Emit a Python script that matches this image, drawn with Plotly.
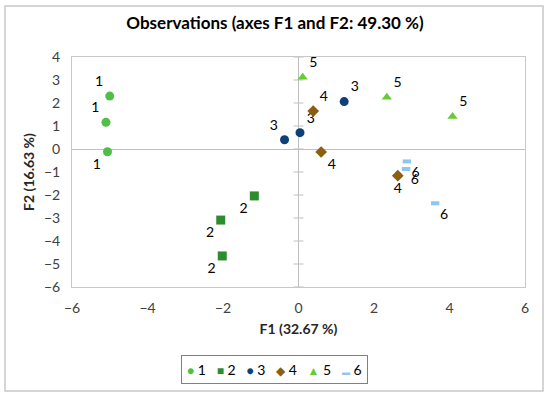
import plotly.graph_objects as go

series_names = ["1", "2", "3", "4", "5", "6"]
f1_values = [
    [-5.00, -5.10, -5.06],
    [-1.17, -2.06, -2.02],
    [1.21, 0.04, -0.37],
    [0.39, 0.60, 2.63],
    [0.11, 2.34, 4.08],
    [2.87, 2.85, 3.62],
]
f2_values = [
    [2.30, 1.16, -0.12],
    [-2.04, -3.09, -4.65],
    [2.06, 0.71, 0.40],
    [1.65, -0.13, -1.16],
    [3.12, 2.25, 1.41],
    [-0.54, -0.87, -2.36],
]
x_ticks = [-6, -4, -2, 0, 2, 4, 6]
y_ticks = [4, 3, 2, 1, 0, -1, -2, -3, -4, -5, -6]

colors = ["#4fbf45", "#2e8b30", "#0d3f7a", "#8c5e10", "#66cc33", "#8ec6ef"]
symbols = ["circle", "square", "circle", "diamond", "triangle-up", "line-ew"]
legend_glyphs = ["●", "■", "●", "◆", "▲", "▬"]
legend_glyph_sizes = [12, 12, 12, 12, 12, 8]
text_pos = [
    ["top left", "top left", "bottom left"],
    ["bottom left", "bottom left", "bottom left"],
    ["top right", "top right", "top left"],
    ["top right", "bottom right", "bottom center"],
    ["top right", "top right", "top right"],
    ["bottom right", "bottom right", "bottom right"],
]

FONT = "Lato, 'Open Sans', sans-serif"
fig = go.Figure()
for i, name in enumerate(series_names):
    if symbols[i] == "line-ew":
        marker = dict(symbol="line-ew", size=6, color=colors[i],
                      line=dict(color=colors[i], width=4))
    else:
        marker = dict(symbol=symbols[i], size=9, color=colors[i],
                      line=dict(width=0))
    fig.add_trace(go.Scatter(
        x=f1_values[i], y=f2_values[i], mode="markers+text", name=name,
        text=[name] * len(f1_values[i]), textposition=text_pos[i],
        textfont=dict(size=14, color="#000000", family=FONT),
        marker=marker, cliponaxis=False, showlegend=False,
    ))

# tick marks on the vertical zero line
for yv in y_ticks:
    fig.add_shape(type="line", xref="x", yref="y", x0=-0.13, x1=0.13, y0=yv, y1=yv,
                  line=dict(color="#bfbfbf", width=1), layer="below")

# outer chart border
fig.add_shape(type="rect", xref="paper", yref="paper",
              x0=-67/453, x1=471/453, y0=-104/230, y1=1 + 51/230,
              line=dict(color="#c8c8c8", width=1.5))

# compact legend as a bordered text box
legend_parts = []
for g, gs, name, c in zip(legend_glyphs, legend_glyph_sizes, series_names, colors):
    legend_parts.append(f"<span style='color:{c};font-size:{gs}px'>{g}</span> {name}")
legend_text = "&nbsp;&nbsp;&nbsp;".join(legend_parts)
fig.add_annotation(text=legend_text, xref="paper", yref="paper",
                   x=(274 - 72) / 453, y=-(369 - 287) / 230, xanchor="center", yanchor="middle",
                   showarrow=False, bordercolor="#808080", borderwidth=1, borderpad=5,
                   font=dict(size=14, color="#000000", family=FONT))

axis_common = dict(showgrid=False, zeroline=True, zerolinecolor="#bfbfbf", zerolinewidth=1,
                   showline=True, linecolor="#c8c8c8", linewidth=1, mirror=True,
                   ticks="", automargin=False, ticklabelstandoff=8,
                   tickfont=dict(size=14, color="#404040", family=FONT))
fig.update_layout(
    width=550, height=397,
    margin=dict(l=72, r=25, t=57, b=110),
    paper_bgcolor="white", plot_bgcolor="white",
    font=dict(family=FONT),
    title=dict(text="<b>Observations (axes F1 and F2: 49.30 %)</b>", x=0.5, xanchor="center",
               xref="container", yref="container", y=1 - 23/397, yanchor="middle",
               font=dict(size=17, color="#000000", family=FONT)),
    xaxis=dict(range=[-6, 6], tickvals=x_ticks, title=dict(text="<b>F1 (32.67 %)</b>",
               font=dict(size=14, color="#262626", family=FONT), standoff=9), **axis_common),
    yaxis=dict(range=[-6, 4], tickvals=y_ticks, title=dict(text="<b>F2 (16.63 %)</b>",
               font=dict(size=14, color="#262626", family=FONT), standoff=6), **axis_common),
    showlegend=False,
)
fig.write_html("out.html", post_script="document.body.style.margin='0';",
               config={"displayModeBar": False})
